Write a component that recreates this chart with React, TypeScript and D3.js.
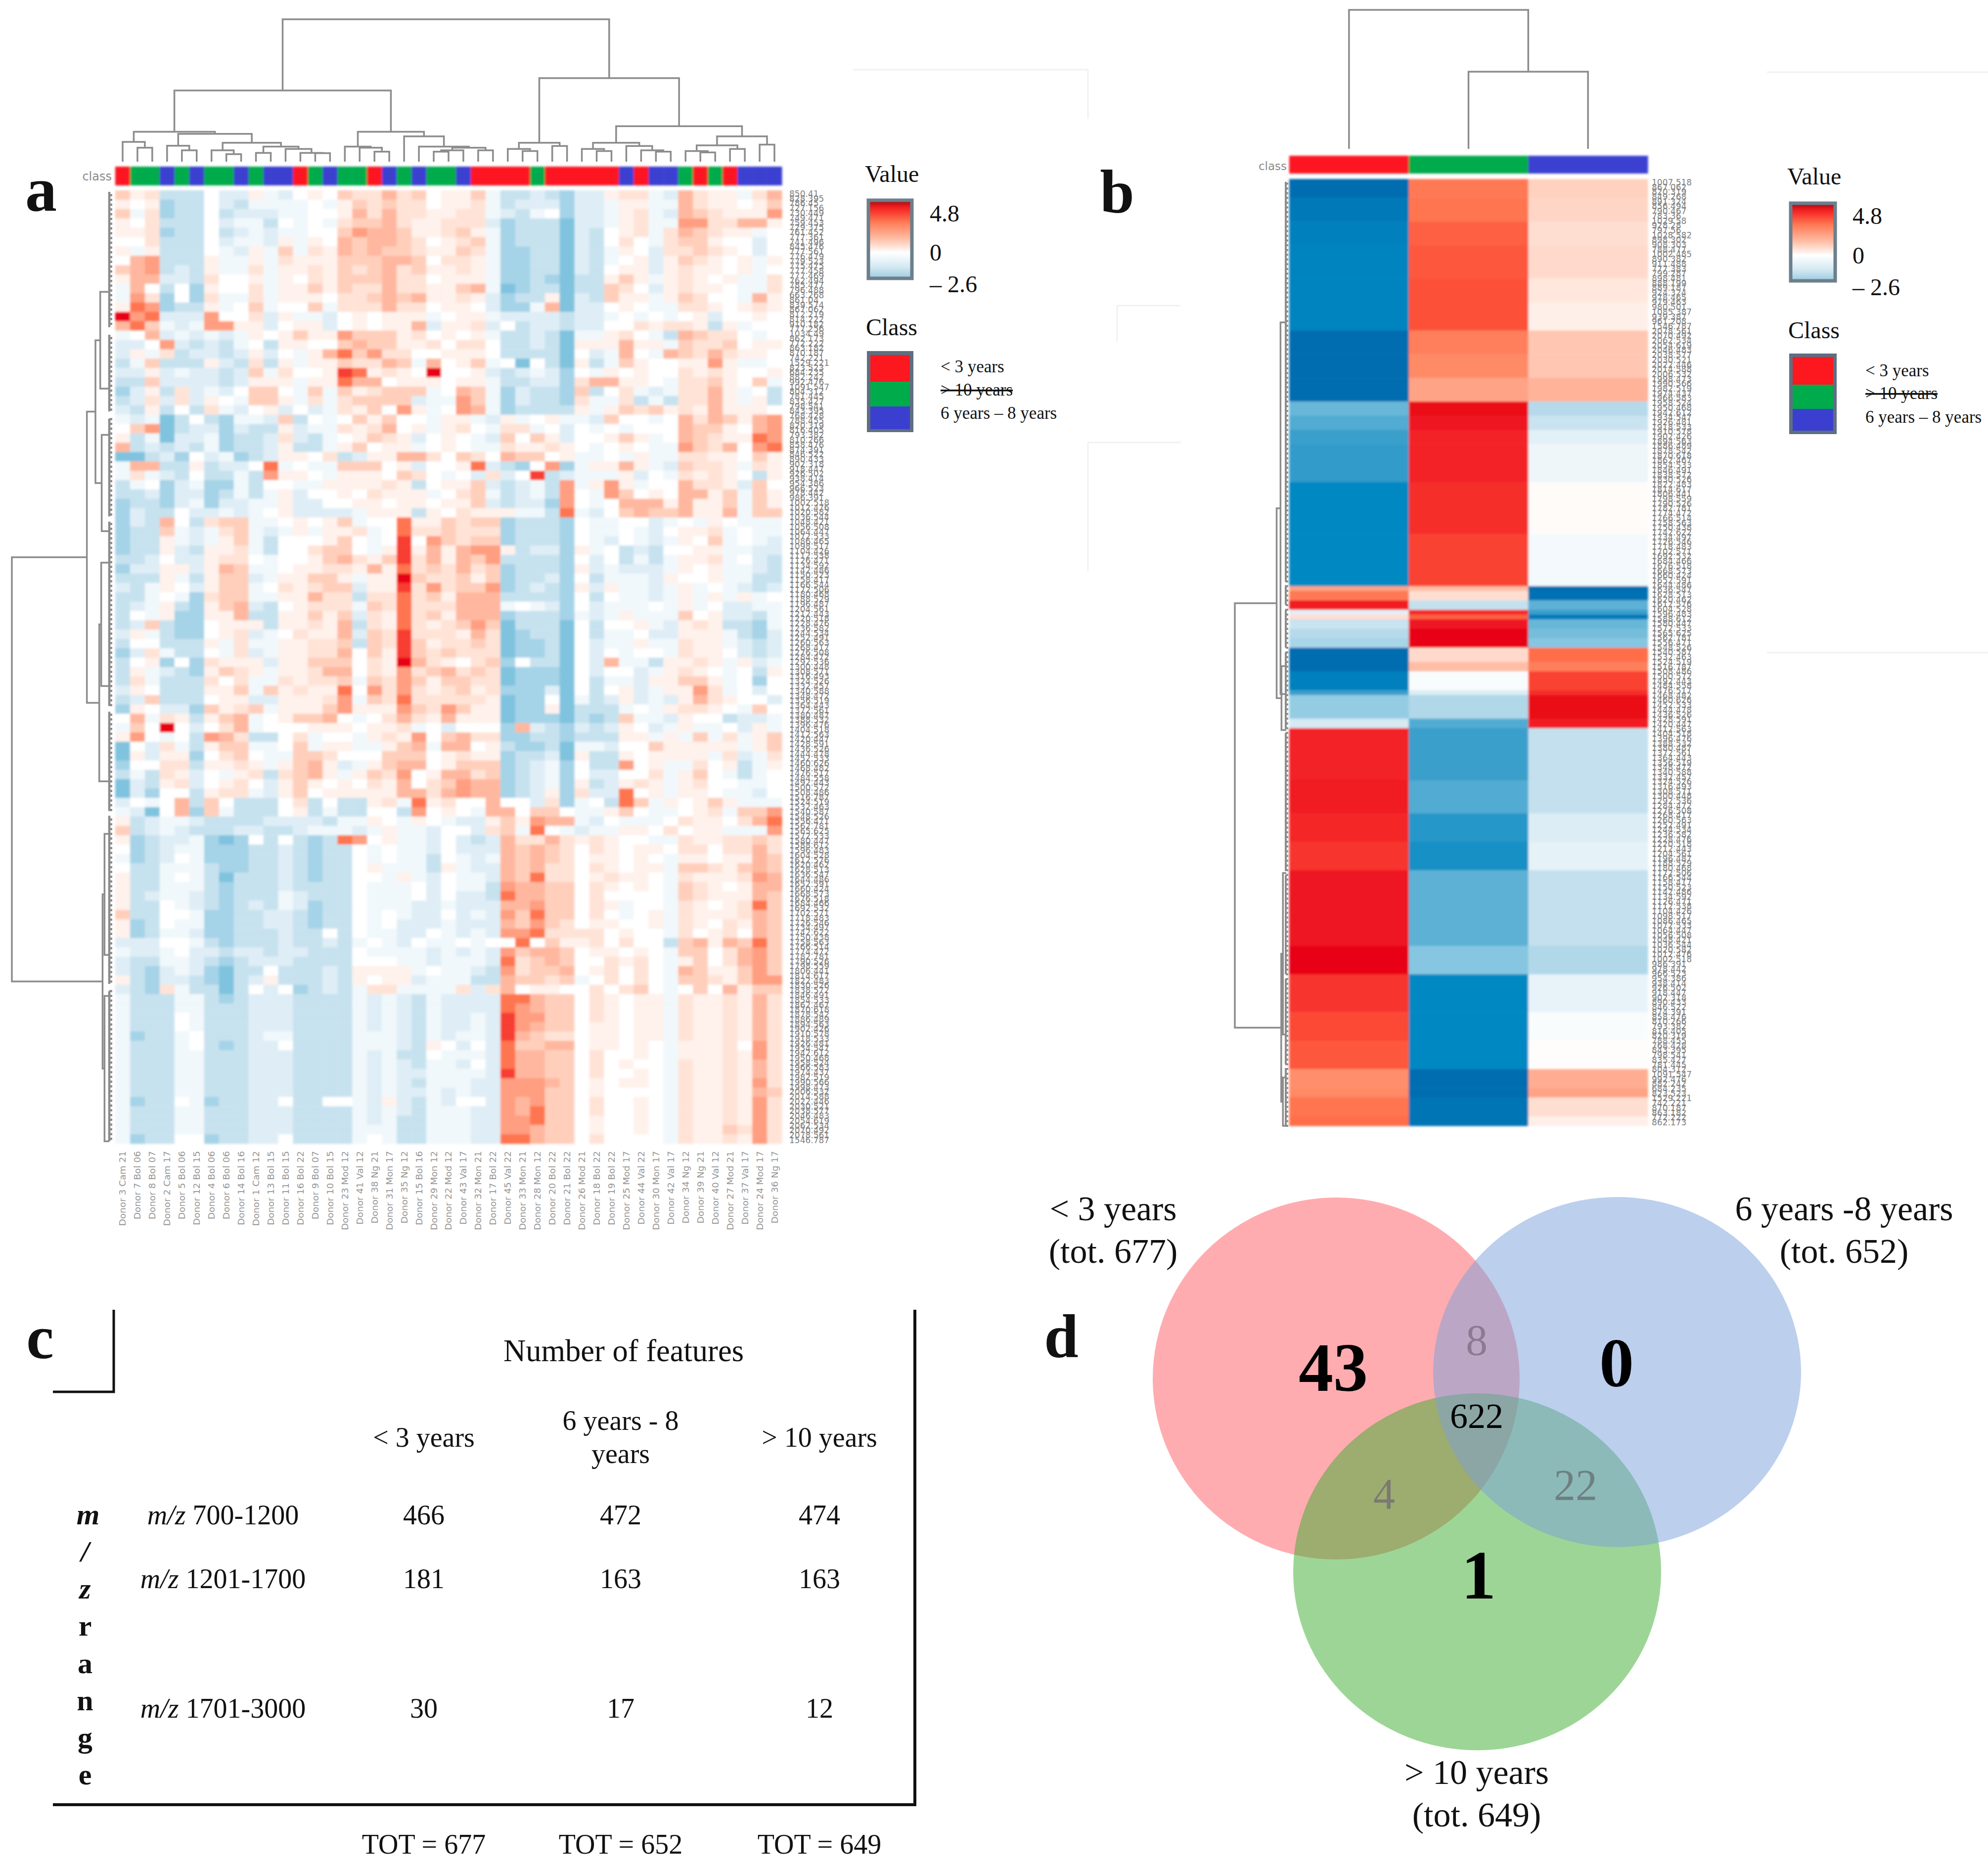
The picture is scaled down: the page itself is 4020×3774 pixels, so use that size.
import * as d3 from 'd3';

const W = 4020;
const H = 3774;

// panel a: samples in the order they sit along the top of the heatmap
const donors = [
  'Donor 3 Cam 21', 'Donor 7 Bol 06', 'Donor 8 Bol 07', 'Donor 2 Cam 17', 'Donor 5 Bol 06', 'Donor 12 Bol 15',
  'Donor 4 Bol 06', 'Donor 6 Bol 06', 'Donor 14 Bol 16', 'Donor 1 Cam 12', 'Donor 13 Bol 15', 'Donor 11 Bol 15',
  'Donor 16 Bol 22', 'Donor 9 Bol 07', 'Donor 10 Bol 15', 'Donor 23 Mod 12', 'Donor 41 Val 12', 'Donor 38 Ng 21',
  'Donor 31 Mon 17', 'Donor 35 Ng 12', 'Donor 15 Bol 16', 'Donor 29 Mon 12', 'Donor 22 Mod 12', 'Donor 43 Val 17',
  'Donor 32 Mon 21', 'Donor 17 Bol 22', 'Donor 45 Val 22', 'Donor 33 Mon 21', 'Donor 28 Mon 12', 'Donor 20 Bol 22',
  'Donor 21 Bol 22', 'Donor 26 Mod 21', 'Donor 18 Bol 22', 'Donor 19 Bol 22', 'Donor 25 Mod 17', 'Donor 44 Val 22',
  'Donor 30 Mon 17', 'Donor 42 Val 17', 'Donor 34 Ng 12', 'Donor 39 Ng 21', 'Donor 40 Val 12', 'Donor 27 Mod 21',
  'Donor 37 Val 17', 'Donor 24 Mod 17', 'Donor 36 Ng 17',
];

// R = < 3 years, G = > 10 years, B = 6-8 years
const donorClass = 'RGGBG BGGBG BBRGB GGRBG BGGBR RRRGR RRRRB RBBGR GRBBB'.replace(/ /g, '');

const classColors: Record<string, string> = { R: '#fd1820', G: '#00ab4b', B: '#3b3fd0' };

// value per colour step
const cellLevels: Record<string, number> = {
  e: -2.0, d: -1.45, c: -0.95, b: -0.55, a: -0.25, '0': 0,
  '1': 0.35, '2': 0.7, '3': 1.15, '4': 1.6, '5': 2.1, '6': 2.9, '7': 3.7, '8': 4.7,
};

// panel a cells: one line per two feature rows, 45 samples
const heatA = [
  '3 1 2 c c c 0 b b 1 a b 0 1 0 3 2 2 4 2 3 0 1 1 3 a c c b c d b b 1 2 2 a b 4 2 1 1 a 2 4',
  '1 0 1 d c c 0 b c a a a a 0 a 1 3 2 3 2 2 0 1 1 2 a c b b b d b b a 1 1 a a 4 2 1 1 0 1 3',
  '3 a 2 d c c 0 c b b b a a 0 0 1 4 2 4 2 2 1 1 2 2 a b c a 0 d b b a 1 2 a b 4 3 2 1 1 1 5',
  '1 0 2 c c c 0 b a a c 0 a 0 a 2 3 3 4 2 1 1 2 2 2 b d c c c e b b a 1 2 a a 5 5 2 2 4 4 1',
  '1 1 2 d c c 0 c b a b a a 0 0 3 5 4 4 3 1 1 2 3 1 a d c c c e b c 0 1 2 a 2 4 3 2 1 1 a 0',
  '0 0 2 c c c 0 b a a b 1 a 1 0 4 3 4 4 3 2 0 1 2 3 a d c c c e b c 0 2 0 a 2 3 3 1 0 0 b 0',
  '1 a 1 c c c 0 a b 1 a 3 a 2 1 4 3 4 3 3 2 1 1 3 2 a d d c c e b c a 1 0 b 2 2 3 2 1 0 b 0',
  '0 4 5 c c c 1 a a 1 a 2 1 1 1 3 3 3 4 4 3 0 2 2 1 a d d c c e b c a 0 1 b 1 3 2 1 0 1 a 1',
  '3 4 5 c b c 1 a a 2 a 1 1 2 1 3 2 3 4 2 3 1 1 2 1 a d d c c e b c 0 1 1 b 1 2 1 1 0 1 a 0',
  '1 4 4 b b c 2 0 0 1 a 1 0 2 1 3 3 3 4 2 2 0 1 1 1 a d d c d e c c 1 3 1 a 1 2 1 0 1 a a 2',
  'a 4 0 c 0 d 1 0 0 2 a 1 1 3 1 3 2 2 4 2 2 1 1 3 4 a e d c c e c c 3 2 0 b 1 2 1 1 0 a a 2',
  'a 5 2 d 0 d 2 a a 2 a 1 1 1 0 2 2 3 4 3 4 1 1 2 1 b d c c 1 e b c 3 1 1 a 1 3 2 0 0 a 4 1',
  '1 6 5 d c c 1 a 0 3 a 0 0 3 a 2 2 2 4 2 2 0 1 1 0 b d d a 4 e b b 0 1 0 a a 2 2 1 0 1 2 1',
  '8 5 6 b b b 5 0 0 2 b 1 a a b 0 1 0 1 1 1 a 0 1 1 a b b b b c b b a 0 a 0 a 0 1 b 0 0 1 0',
  '4 6 3 a b a 5 5 1 1 b 0 1 1 b 0 1 0 1 1 4 b 1 1 2 b 0 c b b c b b 0 0 2 1 2 2 1 c 1 a 0 0',
  'a 0 4 b a b a b a 1 0 1 3 1 1 5 3 3 3 1 2 0 1 0 1 a c c b c e a a 1 2 0 a c 4 3 2 2 0 a 0',
  'b b 0 5 b c b c a 0 c 1 1 0 0 3 4 3 3 1 1 2 0 2 2 0 c c b c e 1 1 1 4 1 1 a 3 2 2 3 0 1 1',
  'b 1 a 2 c b b c b 1 b 0 a 1 4 6 3 5 2 2 0 0 1 1 1 0 c c c c e 0 b a 4 0 a 4 3 2 4 2 1 1 0',
  'c a 3 c c c 1 b c 2 c 1 a 1 1 3 2 2 4 3 a 4 0 1 3 a 0 e 0 c e 1 c a 3 1 0 0 1 1 5 1 a a 0',
  'b b 1 b a b b c b 3 a 2 0 0 1 7 6 1 2 1 0 8 0 0 1 b c b a b d 0 a 1 0 1 0 0 2 1 2 1 0 0 1',
  'c c 3 b b b b c b 1 1 1 a 1 1 6 4 4 0 1 1 1 0 1 1 a c c b b d 2 4 4 1 1 0 a 2 2 3 1 0 3 a',
  'd b 1 c 2 b a b 0 3 3 0 a 3 a 3 1 2 3 3 3 a 0 4 3 a d b c c d 3 c 0 2 a b a 2 2 4 1 a 0 c',
  'c b 2 b 2 b 1 0 a 3 3 1 a 2 a 2 3 3 3 3 b a a 5 3 a d b c c d 2 a a 2 c a c 2 2 4 1 a 1 c',
  'b c 1 c 0 c 2 a b 0 1 b 0 b a 2 1 3 0 5 1 a 0 5 4 a d c c c c 1 a 1 3 2 3 1 2 1 4 1 1 1 0',
  'a b a e c 0 c d a a b 3 c 0 a 0 3 1 3 0 0 a 1 1 a b 1 a 0 1 a a b 3 0 0 a 0 4 2 4 3 1 4 5',
  '0 3 5 e c b b d b c c 1 b a a 2 1 2 4 0 1 a 1 2 0 a 2 2 a 0 b 0 a 0 a 0 0 0 4 3 3 1 0 4 5',
  '1 c a e b b a d c c b 2 b c a 0 1 3 2 1 b 0 1 0 a b 3 0 3 1 b 0 0 1 3 1 a 0 4 3 2 1 1 6 5',
  '4 c b c b c a d c c b 1 c c a 1 3 0 1 1 a 0 1 0 a a 2 1 1 2 1 0 a 0 1 0 a a 5 3 2 4 0 5 6',
  'e e c b d 0 b a d c b 1 1 0 2 c b 1 1 4 4 2 0 3 2 0 4 3 3 0 1 a a 0 a 1 a a 2 2 1 1 0 3 1',
  'a 4 4 c c 1 c b b 0 6 a 0 a a 3 3 3 0 1 b 0 0 1 6 b c d 0 5 d a 1 1 4 1 a b 3 2 2 1 a 2 1',
  'a 2 a b c 0 c c a c 5 1 1 0 a 1 1 1 0 3 2 0 a 0 b 2 b 0 7 c b a a a 1 b 0 a 2 1 2 1 0 c 1',
  'c a 0 d b a d d a c 0 0 a a 1 1 1 1 2 1 c 0 1 1 3 b c b a c 5 a 1 5 1 a 0 0 4 2 2 1 b 3 0',
  'c c b d b b d c a c a 1 b 0 0 1 0 2 1 1 1 a 0 2 3 a c b a c 5 0 a 5 3 0 1 0 4 4 1 3 a 3 1',
  'd c c d b a d b b a a 1 b b 0 0 1 1 0 1 1 0 1 1 3 b c b b d 5 0 a 0 4 4 4 1 4 1 1 3 a 3 1',
  'd b c c 0 b b a b a 0 1 b b b b a 1 1 1 c 1 0 2 1 1 1 a a c 6 a b 0 3 4 3 3 4 1 1 4 a 3 3',
  'd b c 4 0 c 2 3 3 a a 0 1 0 1 3 a 0 0 6 1 1 3 2 3 3 d c c c d 0 a a 0 0 b a 0 a 1 0 a a a',
  'd c c 3 a b a 2 3 a b a 1 a 1 1 2 a 0 6 2 2 3 2 2 2 d c c c d 0 a a 0 a b 0 1 1 2 a 0 a a',
  'd c c 1 a b a 1 3 a c 0 0 0 1 3 0 a 0 7 0 5 3 2 3 3 d c c c d 0 a b 0 a b a 1 0 3 a 0 a b',
  'd c c 1 b c 1 1 2 a c 0 0 2 3 3 0 a 1 7 1 4 1 4 5 5 1 c b b d 1 a 0 c b c 0 0 1 1 a a b b',
  'c c b 0 b b 1 2 2 0 a 0 0 1 3 4 2 1 3 7 2 4 1 4 3 5 c c c c d 0 b 0 c a c a 1 1 2 a 0 b c',
  'd b b 1 1 b 1 4 3 a a 0 1 1 2 2 1 4 1 6 2 3 2 4 2 3 d c c c d 1 b a b b b a 1 0 1 a a b c',
  'c c c 1 a c 1 3 3 b a 1 1 3 3 1 a 1 1 8 3 2 2 3 1 3 d c c b d 0 c a a a b 1 0 0 1 a a c c',
  'b c a 1 0 b 1 3 3 a 0 2 1 2 3 3 b 1 1 7 2 5 2 3 3 5 d c b c d 1 b 1 a a b a 1 a 0 a b c b',
  'c c a 0 a d 2 3 3 a a 1 1 4 2 2 c 2 2 6 2 3 1 4 4 4 c c c c d 0 c 0 a a b a 1 a 1 a 1 a 0',
  'c b a 1 c d 1 3 4 b c 0 1 2 2 2 a 3 2 6 2 2 2 4 4 4 a 0 a b d 0 b a a a 0 a 1 a 0 b b a a',
  'c 0 a 1 d d 1 1 4 c c 1 1 3 1 3 b 2 1 6 2 3 1 4 4 4 d c c c d a b a 1 a a a 3 0 1 b b c a',
  'c b 3 c d d 0 1 1 1 c 1 1 2 1 4 c 2 1 6 2 1 2 3 5 3 e c c c e 0 c 0 0 1 a b 1 2 1 c c d a',
  'b 1 a c d d 0 1 2 b a 0 2 1 1 4 b 3 2 7 2 2 2 1 4 2 e d c c e 0 c a a 0 b b 1 1 1 a c d b',
  'c 0 0 c c c 1 a 2 a a 1 1 2 2 3 c 3 2 7 3 1 2 2 3 2 e d d c e 0 b a a 1 a a 2 1 1 a b c b',
  'd b 2 a c c 0 a 2 b a 1 1 2 2 4 0 3 1 7 3 2 3 2 2 2 e d d c e 0 b 0 a 0 0 a 2 1 1 0 b c b',
  'c 0 1 d 0 d 2 1 1 1 b 1 1 3 3 3 0 2 1 8 4 2 1 0 2 3 d 0 c c e 0 b 4 a a c 1 1 2 1 a 1 b a',
  'c 1 a b c d 1 3 2 1 a 1 1 2 4 4 0 2 1 5 2 3 4 2 3 2 e d d d e 0 b 0 0 b a 1 2 1 0 a 0 c 1',
  'c 2 a c c c 2 0 2 a a 2 1 2 2 3 a 3 2 5 3 1 3 3 2 2 e d d d e 0 c a a b 1 1 3 3 1 a 0 d 0',
  'b 1 0 c c c 1 1 3 a 3 1 2 1 1 6 0 5 2 5 2 1 2 3 1 2 d d d b e 0 c 0 1 b a 1 1 5 2 a 0 b 0',
  'c b 3 c c c 0 1 1 b b 1 1 1 2 5 a 3 2 6 2 2 2 2 2 1 e d d 0 e a c b 1 b a b 1 4 2 1 0 0 b',
  'd 1 0 b b d 3 1 2 3 a 1 1 1 3 5 1 1 1 5 3 2 5 3 1 1 e d d 1 e c c c a 0 a 1 2 2 1 0 a 3 0',
  '0 4 a 2 1 c 1 3 4 a 0 1 3 3 4 0 a 0 2 4 2 1 4 1 1 1 e d d d e c d c 3 a a b 1 0 0 c b b a',
  'a 3 0 8 0 b 0 2 4 a 0 0 0 1 1 1 0 1 1 2 a 0 b 0 0 0 d 4 b c d b c b 1 0 b a 1 a a 0 b 1 a',
  '1 5 0 a 0 c 5 4 2 c c 0 2 a 0 0 a 1 2 1 5 0 3 4 2 2 d d c c d c c c 1 1 a 1 a 3 a 2 a 1 3',
  'e 0 b 2 a c 1 3 3 a a 0 3 a 1 1 a a 1 3 4 a 4 4 0 1 c d d c e a a b 0 0 3 1 1 1 1 1 a 1 3',
  'e 1 b 1 1 d 0 2 3 0 a a 3 3 2 0 0 0 3 3 3 0 1 2 1 1 d c c b e 1 c c 1 0 1 1 1 1 a 2 b a 2',
  'd 0 0 2 2 c 1 1 2 1 a 1 3 4 1 b a 1 3 4 4 0 1 3 3 3 d c b a d 0 c c 5 0 1 a a 2 0 1 c a 1',
  'c a c 2 1 b 0 a 1 2 c 2 3 4 1 a 1 3 2 5 0 1 4 4 2 3 d c b a d 0 b b 0 0 2 a 1 3 0 a c a 0',
  'e b c 1 2 b 0 1 2 0 b 1 3 1 0 1 0 2 1 4 0 2 3 5 4 4 d c b a d 1 c b 1 2 1 a 1 2 0 0 a a 0',
  'e b d 0 0 c 1 2 2 a b 1 3 0 1 1 1 1 1 4 4 2 4 5 4 4 d c b 1 d 2 b b 6 0 1 a 1 1 0 a a b 0',
  'b 0 a 0 4 c 3 0 c c c 0 2 c 0 c c 1 2 a 6 1 2 0 0 4 0 0 b 2 d a 0 c 6 3 a 1 0 1 3 1 a a a',
  'a b e 0 4 d 3 a c c c 0 1 c a c c 0 0 c 5 0 1 0 a 4 4 0 3 3 0 a a 1 3 0 a a 0 1 2 a 3 3 5',
  '1 c b a a b c c c c b b b b c a a 1 0 a 1 0 a b b 1 3 1 5 4 4 a b 0 a a a 0 2 1 1 0 2 4 6',
  '3 c b a b c c c b b c c b a a a b a 1 a a b 0 0 b 2 3 a 6 0 a b a a 1 1 0 2 0 1 1 a a a 5',
  '1 d c b b a d e d 0 c 0 c d c 6 5 0 1 a a b 0 b c b 4 2 2 4 2 1 2 1 0 0 a a 2 1 1 2 2 3 2',
  '0 d c b a a d d d c c b c d c c 0 a 0 a a b 0 b b b 4 3 4 3 2 0 2 1 0 1 1 0 2 2 0 2 2 4 2',
  'a d c b 0 a d d d c c b c d c c 0 a 0 a a c 0 a b a 4 3 4 3 2 0 1 1 0 1 0 a 1 1 0 1 1 4 3',
  '0 c c a a a c d d c c b c d c c 0 1 a a a c 1 a b b 4 3 4 2 2 0 2 1 0 1 1 a 3 3 2 1 3 4 3',
  '1 c c a 0 a c e c c c b c d c c 0 0 a 1 a b 0 a a b 4 3 6 2 2 0 1 2 1 1 0 a 2 1 1 1 2 5 4',
  '1 c c a a a c d c c c b c c c c 0 a a a 0 b 0 a a c 5 4 4 3 3 0 2 1 0 1 0 a 3 2 1 0 1 4 4',
  '1 c b a a b c d c c c a b c c c 0 a a a 0 b 0 b b c 6 4 4 3 3 0 2 0 0 0 0 a 3 2 1 1 1 4 3',
  '1 c c 0 a b c d c b c a b d c c 0 a a a b b a b b b 4 4 5 3 3 0 2 1 a 0 0 a 2 1 0 1 2 6 3',
  '3 c c 0 0 a d d c c b b c d c c 0 a 0 a b b 0 b a b 5 3 6 3 3 0 2 0 a 0 1 a 2 1 1 1 2 4 3',
  '1 d c 0 a a d d c c b b c d c c 0 a 0 b b b a b b b 4 3 5 3 2 0 1 1 0 0 1 a 2 1 0 2 1 4 3',
  '1 d c a a b d d c c c b c c 0 c 0 a a b b 0 a b a b 5 5 6 2 2 2 2 0 1 0 0 a 2 0 1 2 0 4 3',
  'b b b 0 0 a c d c c c b c c b c a 0 a b 0 a a 0 a 0 0 6 0 3 1 1 2 0 2 0 0 c 3 4 1 4 3 6 3',
  'a b b a 0 b b c b b c b b c c c 0 a a a a b a b a b 5 3 4 4 3 0 1 1 0 1 0 a 3 3 0 2 4 5 3',
  'b c c a a b c d c b b b c c c c 0 0 0 a a b a a a b 6 2 3 4 3 0 0 2 1 2 0 a 1 3 0 2 4 5 3',
  'b c d b a b d e c c 0 c c c b c 1 1 1 1 a 0 a a b c 5 2 3 3 4 0 1 2 0 2 0 a 4 3 1 1 3 5 3',
  '1 c d b b c d e c b 1 c c c b c 1 0 1 1 b a a a c c 4 3 3 2 3 a 0 2 0 2 0 a 3 3 2 1 3 5 5',
  'b c d 2 a c c e c 0 b 0 d c b c a 2 2 a a a a 2 b 2 4 0 1 1 0 0 2 0 2 3 0 a 0 3 0 4 1 3 3',
  'a c c c a a c d c b b b c c c c a b a b c a b b b b 6 6 4 3 3 0 2 1 0 1 1 a 2 1 1 2 1 4 2',
  'a c c c a a c c c b b b c c c c a b a b c a b b b b 6 5 4 3 3 0 2 1 0 1 1 a 2 1 1 2 1 4 2',
  'a c c c 0 a c c c b b b c c c c a b a b c a b b a b 7 5 5 3 3 0 2 1 0 1 1 a 2 1 1 2 1 4 2',
  'a c c c 0 a c c c b b b c c c c a b a b c a b b a b 7 5 4 3 3 0 1 1 0 1 1 a 2 1 1 2 1 4 2',
  'a d c c a 0 c c c b a a c c c c a a a b c a b a a b 7 4 3 2 2 0 1 1 0 1 1 a 2 1 1 2 1 4 2',
  'a c c c a 0 c d c b b 0 c c c c a a a b c 1 0 b 0 b 6 3 3 4 4 0 1 1 0 1 0 a 1 1 1 2 0 5 2',
  'a c c c a a c c c b b b c c c c a b a c c 0 a a a b 6 4 4 3 3 0 2 0 0 1 0 a 1 1 1 2 1 5 2',
  'a c c c a a c c c b b b c c c c a b a b c a a b 0 b 6 4 4 3 3 0 2 0 1 0 0 a 2 1 1 2 1 4 2',
  'a c c c a a c c c b b b c c c c a b a b b a a a a b 7 4 4 3 3 0 2 0 0 1 0 a 2 1 1 2 1 4 2',
  'a c c c a a c c c b b b c c c c a b a b c a a a b b 5 5 5 4 3 0 1 0 1 1 0 a 2 1 1 2 1 5 2',
  'a c c c a a c c c b b b c c c c a b a b b a b a b b 5 5 5 3 3 0 1 0 0 0 0 a 2 1 1 2 1 4 3',
  'a d c c 0 a d c c b b 0 c c 0 0 a b 1 b c a b 0 0 b 5 4 5 3 3 0 2 0 0 1 0 a 2 1 1 2 1 5 2',
  'a c c c a a c c c b b b c c c c a b a b c a a a b b 5 4 6 3 3 0 2 0 0 1 0 a 2 1 1 2 1 5 2',
  'a c c c a a c c c b b b c c c c a b a c c a a a b b 5 5 6 3 3 0 1 0 0 1 0 a 2 1 1 2 1 5 2',
  'a c c c a a c c c b b b c c c c a a a c c a a a b b 5 5 4 3 3 0 1 0 0 1 0 a 2 1 1 3 2 5 2',
  'a d c c 0 0 d c c b b 0 c c c c a 0 a c c a a a b b 6 6 4 3 3 0 2 0 0 0 0 a 2 1 1 2 1 5 2',
];

// m/z row labels as far as they can be read through the overlap
const mzA = ('850.41 828.395 786.45 727.156 730.449 749.471 759.453 729.375 761.452 777.361 741.496 845.476 ' +
  '777.561 776.479 779.523 775.475 777.458 777.469 762.494 785.477 796.488 663.268 861.04 839.574 867.062 812.219 ' +
  '814.222 910.182 777.256 1034.49 862.173 772.222 863.182 870.187 742.221 1529.221 823.523 684.235 882.242 ' +
  '992.476 1091.547 804.312 781.445 835.427 798.541 843.395 768.428 788.455 820.319 816.405 793.382 810.266 ' +
  '858.476 874.391 846.522 890.433 902.318 918.447 926.502 938.414 954.386 966.523 978.442 986.391 1002.518 ' +
  '1012.476 1020.582 1036.544 1048.421 1056.508 1064.447 1072.533 1086.465 1098.517 1104.426 1112.538 1126.471 ' +
  '1134.592 1142.486 1150.523 1158.417 1166.544 1172.506 1180.468 1188.529 1196.487 1204.561 1212.443 1220.518 ' +
  '1228.476 1236.582 1244.534 1252.491 1260.563 1268.417 1276.508 1284.472 1292.536 1300.448 1308.571 1316.493 ' +
  '1324.526 1332.457 1340.588 1348.472 1356.519 1364.443 1372.561 1380.487 1388.532 1396.476 1404.518 1412.563 ' +
  '1420.447 1428.591 1436.526 1444.478 1452.533 1460.626 1468.482 1476.517 1484.558 1492.443 1500.572 1508.486 ' +
  '1516.787 1524.519 1532.463 1540.587 1548.526 1556.471 1562.781 1565.625 1572.533 1580.447 1588.612 1596.483 ' +
  '1604.528 1612.576 1620.462 1628.513 1636.547 1644.486 1652.591 1660.424 1668.573 1676.518 1684.466 1692.532 ' +
  '1702.571 1718.483 1726.546 1734.497 1742.622 1750.438 1758.563 1766.514 1774.472 1782.781 1790.526 1798.559 ' +
  '1806.441 1814.617 1822.483 1830.526 1838.572 1846.491 1854.533 1862.467 1870.618 1878.542 1886.489 1894.563 ' +
  '1902.426 1910.578 1918.533 1926.481 1934.547 1942.612 1950.468 1958.524 1966.583 1974.437 1982.519 1990.566 ' +
  '1998.473 2006.532 2014.588 2022.446 2030.521 2038.577 2046.483 2054.619 2062.534 2070.492 2078.561 1546.787').split(' ');

const mzBStart = ['1007.518', '867.062', '820.319', '849.268', '891.324', '856.494', '790.467', '783.36', '1029.58', '928.28',
  '797.56', '1028.582', '898.302', '908.303', '788.477', '1002.485', '890.382', '911.488', '777.383', '799.287',
  '898.481', '888.199', '889.187', '924.324', '978.465', '979.463', '980.501', '1085.387', '939.387', '961.208'];
const mzB = [...mzBStart, ...mzA.slice(30).reverse()];

// panel b, mean per class. Each band counts how many of the 200 rows it covers
const bandRows = [4, 5, 5, 7, 5, 6, 5, 5, 5, 3, 3, 3, 8, 11, 11, 1, 2, 2, 1, 1, 2, 2, 2, 3, 2, 4, 1, 5, 2, 11, 7, 6, 6, 16, 6, 8, 6, 6, 4, 2, 4, 2];
const bandUnder3 = [-3.9, -3.6, -3.4, -3.3, -3.3, -3.3, -3.9, -3.9, -3.9, -2.2, -2.4, -2.6, -2.7, -3.2, -3.2, 2.0, 2.8, 4.2, -0.5, 0.8, -0.9, -1.2, -1.4, -3.9, -3.9, -3.4, -2.6, -1.7, -0.7, 4.1, 4.3, 4.0, 3.8, 4.4, 4.7, 3.8, 3.5, 3.3, 2.4, 2.5, 2.9, 3.0];
const bandOver10 = [2.8, 2.9, 3.2, 3.3, 3.4, 3.4, 2.7, 2.5, 2.0, 4.6, 4.4, 4.1, 4.1, 3.9, 3.6, 1.5, 0.8, -1.0, 4.0, 3.2, 4.4, 4.7, 4.7, 0.9, 1.5, -0.1, -0.6, -1.3, -2.4, -2.6, -2.4, -2.8, -3.0, -2.3, -1.9, -3.2, -3.2, -3.2, -3.9, -3.9, -3.7, -3.7];
const band6to8 = [1.1, 1.0, 0.8, 0.9, 0.6, 0.4, 1.3, 1.3, 1.7, -1.2, -0.9, -0.5, -0.3, 0.1, -0.2, -3.9, -3.8, -2.3, -2.6, -3.6, -2.2, -2.1, -1.9, 3.0, 2.7, 3.6, 3.9, 4.6, 4.2, -1.0, -1.0, -0.6, -0.45, -1.0, -1.3, -0.4, -0.1, 0.05, 1.8, 2.0, 0.8, 0.4];
const classesB = ['R', 'G', 'B'];

// dendrograms: [height, left, right], leaves are column or row positions
type Tree = number | [number, Tree, Tree];

const colTreeA: Tree = [100,
  [50,
    [21,
      [13.9, 0, [9.8, 1, 2]],
      [19.5,
        [11.2, 3, [8, 4, 5]],
        [13.3,
          [8, 6, [5.3, 7, 8]],
          [10.6, [6.2, 9, 10], [8.9, 11, [6.2, 12, [6, 13, 14]]]]]]],
    [21,
      [10.6, 15, [9.8, 16, [7, 17, 18]]],
      [17.8, 19, [10.6, 20, [9.8, [8, [7, 21, 22], 23], [8, 24, 25]]]]]],
  [58.7,
    [13.3, [8.9, 26, [7.5, 27, 28]], [11, 29, 30]],
    [24.9,
      [13.3,
        [8.9, 31, [7.5, 32, 33]],
        [11, 34, [8, 35, [7, 36, 37]]]],
      [17.8,
        [11.5, [7.5, 38, [6.5, 39, 40]], [8.9, 41, 42]],
        [12, 43, 44]]]]];

const colTreeB: Tree = [100, 0, [55.5, 1, 2]];

const rowTreeA: Tree = [100,
  [23,
    [14.2, [9.3, 21.3, 41.6], [7.8, 51.3, 71.5]],
    [10.3, [8.3, 78.1, 104], 124]],
  [6.9, [4.9, 135, 160.4], [4.9, 169, 199.5]]];

const rowTreeB: Tree = [100,
  [18.7, [11.2, 30.3, 108.8], [9.3, 102.9, 116.4]],
  [9.8, [6.5, 146.6, 180.7], [6.5, 189.8, 200]]];

// row ranges where the low branches crowd into a solid fuzz
const fuzzA = [[0.3, 28.7], [30.3, 46.4], [47.9, 68.4], [69.5, 108.2], [109.4, 130.2], [131.2, 166.5], [168, 199.5]];
const fuzzB = [[0.6, 85], [86, 90], [91, 99], [100, 116], [117, 146], [147, 168], [169, 187], [188, 200]];

const legendItems = ['< 3 years', '> 10 years', '6 years – 8 years'];
const legendTicks = ['4.8', '0', '– 2.6'];

// panel c table
const tableRanges = ['700-1200', '1201-1700', '1701-3000'];
const tableUnder3 = [466, 181, 30];
const tableMid = [472, 163, 17];
const tableOver10 = [474, 163, 12];
const tableTotals = [677, 652, 649];
const sideLetters = ['m', '/', 'z', 'r', 'a', 'n', 'g', 'e'];

// faint leftovers of the source page around the panels
const ghostLines = [
  [2259, 618, 2387, 618], [2259, 618, 2259, 690], [2200, 895, 2388, 895], [2200, 895, 2200, 1155],
  [1725, 141, 2200, 141], [2200, 141, 2200, 240], [3573, 146, 4020, 146], [3573, 1320, 4020, 1320],
];

const SERIF = '"Liberation Serif", serif';
const SANS = '"DejaVu Sans", sans-serif';
const DENDRO = '#8c8c8c';

const heatColor = d3.scaleLinear<string>()
  .domain([-4, -3.2, -2.6, -2, -1.5, -1, -0.5, 0, 0.5, 1, 1.5, 2, 2.5, 3, 3.5, 4, 4.4, 4.8])
  .range(['#0069ad', '#0088c2', '#3a9fcc', '#7fc3de', '#a2d2e6', '#c4e0ee', '#e2f0f7', '#ffffff', '#ffebe3', '#ffd6c6', '#ffbda5', '#ffa386', '#ff8a66', '#ff6e4a', '#fb4a35', '#f42828', '#ee1520', '#e60012'])
  .clamp(true);

// walk a tree and give back its elbow path; pos and height are the two scales
function treePath(tree: Tree, pos: (v: number) => number, height: (h: number) => number, horizontal: boolean) {
  const root = d3.hierarchy<Tree>(tree, (d) => (Array.isArray(d) ? (d.slice(1) as Tree[]) : null));
  const place = new Map<unknown, { p: number; b: number }>();
  root.eachAfter((n) => {
    if (n.children) {
      const a = place.get(n.children[0])!;
      const c = place.get(n.children[1])!;
      place.set(n, { p: (a.p + c.p) / 2, b: height((n.data as [number, Tree, Tree])[0]) });
    } else {
      place.set(n, { p: pos(n.data as number), b: height(0) });
    }
  });
  const path = d3.path();
  const pt = (p: number, b: number): [number, number] => (horizontal ? [b, p] : [p, b]);
  root.each((n) => {
    if (!n.children) return;
    const me = place.get(n)!;
    const [a, c] = n.children.map((k) => place.get(k)!);
    path.moveTo(...pt(a.p, a.b));
    path.lineTo(...pt(a.p, me.b));
    path.lineTo(...pt(c.p, me.b));
    path.lineTo(...pt(c.p, c.b));
  });
  return path.toString();
}

function Label({ x, y, size, anchor, bold, italic, fill, children }: any) {
  return (
    <text x={x} y={y} fontSize={size} textAnchor={anchor ?? 'middle'} fontFamily={SERIF}
      fontWeight={bold ? 700 : 400} fontStyle={italic ? 'italic' : 'normal'} fill={fill ?? '#111'}>
      {children}
    </text>
  );
}

function Legend({ x, w, valueY, barY0, barY1, tickX, tickYs, classY, boxY0, boxY1, stripes, textX, textYs, id }: any) {
  return (
    <g>
      <Label x={x - 4} y={valueY} size={48} anchor="start">Value</Label>
      <rect x={x + 3} y={barY0 + 3} width={w - 6} height={barY1 - barY0 - 6} fill={`url(#${id})`} stroke="#6d7f8c" strokeWidth={7} />
      {legendTicks.map((t, i) => (
        <Label key={t} x={tickX} y={tickYs[i]} size={48} anchor="start">{t}</Label>
      ))}
      <Label x={x - 2} y={classY} size={48} anchor="start">Class</Label>
      <rect x={x} y={boxY0} width={w} height={boxY1 - boxY0} fill="#5f6f82" />
      {['R', 'G', 'B'].map((k, i) => (
        <rect key={k} x={x + 7} y={stripes[i]} width={w - 14} height={stripes[i + 1] - stripes[i]} fill={classColors[k]} />
      ))}
      {legendItems.map((t, i) => (
        <Label key={t} x={textX} y={textYs[i]} size={35} anchor="start">
          {i === 1 ? <tspan textDecoration="line-through">{t}</tspan> : t}
        </Label>
      ))}
    </g>
  );
}

export default function App() {
  // panel a
  const xA = d3.scaleBand<number>().domain(d3.range(donors.length)).range([233, 1581]);
  const matrixA = heatA.map((r) => r.replace(/ /g, '').split('').map((c) => cellLevels[c]));
  const yA = d3.scaleBand<number>().domain(d3.range(matrixA.length)).range([385, 2313]);
  const rowA = d3.scaleLinear().domain([0, 200]).range([385, 2313]);
  const colPathA = treePath(colTreeA, (v) => xA(v)! + xA.bandwidth() / 2, d3.scaleLinear().domain([0, 100]).range([327, 39]), false);
  const rowPathA = treePath(rowTreeA, rowA, d3.scaleLinear().domain([0, 100]).range([221, 24]), true);
  const labelA = d3.scalePoint<number>().domain(d3.range(mzA.length)).range([392, 2306]);

  // panel b
  const xB = d3.scaleBand<number>().domain([0, 1, 2]).range([2607, 3332]);
  const rowB = d3.scaleLinear().domain([0, 200]).range([362, 2277]);
  const bandStart = d3.cumsum([0, ...bandRows]);
  const bandValues = [bandUnder3, bandOver10, band6to8];
  const colPathB = treePath(colTreeB, (v) => xB(v)! + xB.bandwidth() / 2, d3.scaleLinear().domain([0, 100]).range([301, 20]), false);
  const rowPathB = treePath(rowTreeB, rowB, d3.scaleLinear().domain([0, 100]).range([2601, 2497]), true);
  const labelB = d3.scalePoint<number>().domain(d3.range(mzB.length)).range([369, 2270]);

  const fuzz = (ranges: number[][], scale: d3.ScaleLinear<number, number>, bx: number, reach: number) => {
    const p = d3.path();
    ranges.forEach(([a, c]) => {
      p.moveTo(bx, scale(a));
      p.lineTo(bx, scale(c));
      d3.range(Math.ceil(a), Math.floor(c) + 1).forEach((r) => {
        p.moveTo(bx - (r % 3), scale(r));
        p.lineTo(bx + reach, scale(r));
      });
    });
    return p.toString();
  };

  const tableCols = [857, 1255, 1657];
  const tableY = [3083, 3212, 3474];
  const tableValues = [tableUnder3, tableMid, tableOver10];
  const sideY = d3.scaleLinear().domain([0, 7]).range([3083, 3609]);

  return (
    <svg width={W} height={H} viewBox={`0 0 ${W} ${H}`} style={{ position: 'absolute', left: 0, top: 0, display: 'block' }}>
      <defs>
        <filter id="soft" x="-2%" y="-2%" width="104%" height="104%">
          <feGaussianBlur stdDeviation="2.2" />
        </filter>
        <linearGradient id="valueBar" x1="0" y1="0" x2="0" y2="1">
          <stop offset="0" stopColor="#9e0b18" />
          <stop offset="0.09" stopColor="#f41f1f" />
          <stop offset="0.28" stopColor="#ff7a55" />
          <stop offset="0.5" stopColor="#ffc0a8" />
          <stop offset="0.67" stopColor="#ffffff" />
          <stop offset="0.85" stopColor="#d5e9f2" />
          <stop offset="1" stopColor="#9ccbe0" />
        </linearGradient>
      </defs>
      <rect width={W} height={H} fill="#fff" />

      {ghostLines.map(([x1, y1, x2, y2], i) => (
        <line key={i} x1={x1} y1={y1} x2={x2} y2={y2} stroke="#f1f1f1" strokeWidth={3} />
      ))}

      {/* a */}
      <Label x={83} y={426} size={128} bold>a</Label>
      <path d={colPathA} fill="none" stroke={DENDRO} strokeWidth={3.5} />
      <text x={226} y={365} fontSize={24} textAnchor="end" fontFamily={SANS} fill="#8a8a8a">class</text>
      <g filter="url(#soft)">
        {donors.map((d, i) => (
          <rect key={d} x={xA(i)} y={337} width={xA.bandwidth() + 0.5} height={38} fill={classColors[donorClass[i]]} />
        ))}
        {matrixA.map((row, r) => row.map((v, c) => (
          <rect key={`${r}-${c}`} x={xA(c)} y={yA(r)} width={xA.bandwidth() + 0.5} height={yA.bandwidth() + 0.5} fill={heatColor(v)} />
        )))}
      </g>
      <path d={rowPathA} fill="none" stroke={DENDRO} strokeWidth={3.5} />
      <path d={fuzz(fuzzA, rowA, 221, 6)} fill="none" stroke={DENDRO} strokeWidth={4.5} />
      {donors.map((d, i) => {
        const cx = xA(i)! + xA.bandwidth() / 2;
        return (
          <text key={d} transform={`translate(${cx},2328) rotate(-90)`} fontSize={18.5} textAnchor="end" dy="0.35em" fontFamily={SANS} fill="#969696">{d}</text>
        );
      })}
      {mzA.map((m, i) => (
        <text key={i} x={1596} y={labelA(i)} dy="0.35em" fontSize={17} fontFamily={SANS} fill="#7f7f7f">{m}</text>
      ))}
      <Legend id="valueBar" x={1753} w={94} valueY={368} barY0={402} barY1={566} tickX={1880} tickYs={[448, 527, 591]}
        classY={678} boxY0={710} boxY1={874} stripes={[718, 772, 822, 868]} textX={1902} textYs={[753, 800, 847]} />

      {/* b */}
      <Label x={2259} y={430} size={125} bold>b</Label>
      <path d={colPathB} fill="none" stroke={DENDRO} strokeWidth={3.5} />
      <text x={2602} y={344} fontSize={23} textAnchor="end" fontFamily={SANS} fill="#8a8a8a">class</text>
      <g filter="url(#soft)">
        {classesB.map((k, i) => (
          <rect key={k} x={xB(i)} y={315} width={xB.bandwidth() + 0.5} height={36} fill={classColors[k]} />
        ))}
        {bandValues.map((vals, c) => vals.map((v, b) => (
          <rect key={`${c}-${b}`} x={xB(c)} y={rowB(bandStart[b])} width={xB.bandwidth() + 0.5}
            height={rowB(bandStart[b + 1]) - rowB(bandStart[b]) + 0.5} fill={heatColor(v)} />
        )))}
      </g>
      <path d={rowPathB} fill="none" stroke={DENDRO} strokeWidth={3.5} />
      <path d={fuzz(fuzzB, rowB, 2600, 5)} fill="none" stroke={DENDRO} strokeWidth={4} />
      {mzB.map((m, i) => (
        <text key={i} x={3340} y={labelB(i)} dy="0.35em" fontSize={17} fontFamily={SANS} fill="#7f7f7f">{m}</text>
      ))}
      <Legend id="valueBar" x={3618} w={96} valueY={373} barY0={408} barY1={571} tickX={3746} tickYs={[453, 533, 597]}
        classY={684} boxY0={715} boxY1={878} stripes={[722, 778, 827, 871]} textX={3772} textYs={[761, 807, 855]} />

      {/* c */}
      <Label x={81} y={2747} size={125} bold>c</Label>
      <path d="M230 2649V2815H107" fill="none" stroke="#111" strokeWidth={5} />
      <path d="M1850 2649V3650H107" fill="none" stroke="#111" strokeWidth={6} />
      <Label x={1261} y={2753} size={62.5}>Number of features</Label>
      <Label x={857} y={2926} size={56}>{'< 3 years'}</Label>
      <Label x={1255} y={2892} size={56}>6 years - 8</Label>
      <Label x={1255} y={2959} size={56}>years</Label>
      <Label x={1657} y={2926} size={56}>{'> 10 years'}</Label>
      {sideLetters.map((s, i) => (
        <Label key={i} x={i < 1 ? 178 : 172} y={sideY(i)} size={60} bold italic={i < 3}>{s}</Label>
      ))}
      {tableRanges.map((r, i) => (
        <Label key={r} x={451} y={tableY[i]} size={56}><tspan fontStyle="italic">m/z</tspan> {r}</Label>
      ))}
      {tableValues.map((vals, c) => vals.map((v, i) => (
        <Label key={`${c}-${i}`} x={tableCols[c]} y={tableY[i]} size={56}>{v}</Label>
      )))}
      {tableTotals.map((t, c) => (
        <Label key={t} x={tableCols[c]} y={3749} size={56}>{`TOT = ${t}`}</Label>
      ))}

      {/* d */}
      <Label x={2146} y={2745} size={125} bold>d</Label>
      <ellipse cx={2702} cy={2788} rx={371} ry={366} fill="#ff5a62" fillOpacity={0.5} />
      <ellipse cx={2987} cy={3179} rx={372} ry={361} fill="#3cab2e" fillOpacity={0.5} />
      <ellipse cx={3270} cy={2775} rx={372} ry={354} fill="#7aa0dc" fillOpacity={0.5} />
      <Label x={2251} y={2468} size={70}>{'< 3 years'}</Label>
      <Label x={2251} y={2554} size={70}>(tot. 677)</Label>
      <Label x={3729} y={2468} size={70}>6 years -8 years</Label>
      <Label x={3729} y={2554} size={70}>(tot. 652)</Label>
      <Label x={2986} y={3608} size={70}>{'> 10 years'}</Label>
      <Label x={2986} y={3694} size={70}>(tot. 649)</Label>
      <Label x={2696} y={2813} size={140} bold fill="#000">43</Label>
      <Label x={3269} y={2804} size={140} bold fill="#000">0</Label>
      <Label x={2990} y={3233} size={140} bold fill="#000">1</Label>
      <Label x={2986} y={2888} size={72} fill="#000">622</Label>
      <Label x={2986} y={2740} size={88} fill="#8b7a92">8</Label>
      <Label x={2799} y={3051} size={88} fill="#7a7a70">4</Label>
      <Label x={3186} y={3033} size={88} fill="#6f7f80">22</Label>
    </svg>
  );
}
